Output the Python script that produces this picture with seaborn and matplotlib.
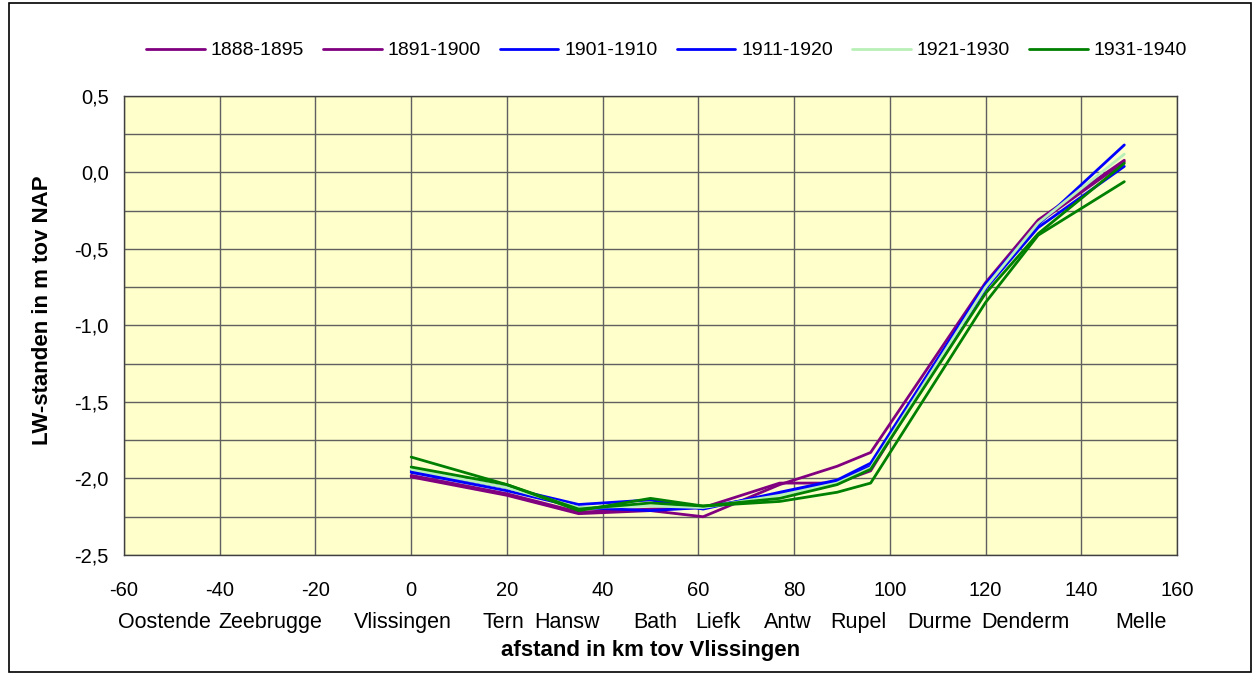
import numpy as np
import pandas as pd
import matplotlib
matplotlib.use("Agg")
import matplotlib.pyplot as plt
import matplotlib.transforms as mtransforms
from matplotlib.ticker import MultipleLocator, FuncFormatter
from matplotlib.lines import Line2D
from matplotlib.patches import Rectangle
import seaborn as sns

# afstand in km tov Vlissingen van de meetpunten
km = [0, 20, 35, 50, 61, 77, 89, 96, 120, 131, 149]

# LW-standen (m tov NAP) per periode
lw_1888_1895 = [-1.99, -2.11, -2.23, -2.21, -2.25, -2.04, -1.92, -1.83, -0.72, -0.31, 0.08]
lw_1891_1900 = [-1.98, -2.10, -2.22, -2.20, -2.19, -2.03, -2.03, -1.95, -0.74, -0.33, 0.07]
lw_1901_1910 = [-1.95, -2.06, -2.17, -2.14, -2.20, -2.09, -2.01, -1.90, -0.73, -0.34, 0.18]
lw_1911_1920 = [-1.96, -2.08, -2.19, -2.21, -2.19, -2.10, -2.02, -1.92, -0.76, -0.36, 0.04]
lw_1921_1930 = [-1.94, -2.06, -2.19, -2.18, -2.19, -2.11, -2.03, -1.93, -0.75, -0.33, 0.12]
lw_1931_1940 = [-1.86, -2.04, -2.21, -2.13, -2.18, -2.15, -2.09, -2.03, -0.85, -0.41, -0.06]
lw_extra = [-1.925, -2.04, -2.20, -2.16, -2.18, -2.13, -2.04, -1.94, -0.79, -0.40, 0.06]

perioden = ["1888-1895", "1891-1900", "1901-1910", "1911-1920", "1921-1930", "1931-1940"]
kleuren = ["#800080", "#800080", "#0000FF", "#0000FF", "#B8F0B8", "#008000"]

# stations langs de x-as (positie in km)
stations = ["Oostende", "Zeebrugge", "Vlissingen", "Tern", "Hansw", "Bath", "Liefk",
            "Antw", "Rupel", "Durme", "Denderm", "Melle"]
station_km = [-51.5, -29.5, -1.7, 19.2, 32.6, 51, 64, 78.6, 93.5, 110.4, 128.4, 152.4]

sns.set_style("white")
plt.rcParams["font.family"] = ["Liberation Sans", "DejaVu Sans"]
plt.rcParams["axes.unicode_minus"] = False
plt.rcParams["text.color"] = "black"
plt.rcParams["xtick.color"] = "black"
plt.rcParams["ytick.color"] = "black"

fig = plt.figure(figsize=(12.6, 6.75), dpi=100)
ax = fig.add_axes([0.0984, 0.1778, 0.8357, 0.68])
ax.set_facecolor("#FFFFCC")

series = [lw_1888_1895, lw_1891_1900, lw_1901_1910, lw_1911_1920, lw_1921_1930, lw_1931_1940]
for naam, kleur, waarden in zip(perioden, kleuren, series):
    df = pd.DataFrame({"km": km, "lw": waarden})
    sns.lineplot(data=df, x="km", y="lw", color=kleur, lw=2.0, ax=ax, label=naam, legend=False)
# extra reeks zonder legenda
sns.lineplot(data=pd.DataFrame({"km": km, "lw": lw_extra}), x="km", y="lw",
             color="#008000", lw=2.0, ax=ax, legend=False)

ax.set_xlim(-60, 160)
ax.set_ylim(-2.5, 0.5)
ax.xaxis.set_major_locator(MultipleLocator(20))
ax.yaxis.set_major_locator(MultipleLocator(0.5))
ax.yaxis.set_minor_locator(MultipleLocator(0.25))
ax.yaxis.set_major_formatter(FuncFormatter(lambda v, p: f"{v:.1f}".replace(".", ",")))
ax.grid(True, which="both", color="#606060", lw=1.0)
ax.set_axisbelow(True)
ax.tick_params(axis="both", which="both", length=0, labelsize=14.5)
ax.tick_params(axis="x", pad=19)
ax.tick_params(axis="y", pad=11)
for s in ax.spines.values():
    s.set_color("#404040")
    s.set_linewidth(1.0)
ax.set_xlabel("")
ax.set_ylabel("")

fig.text(0.516, 0.037, "afstand in km tov Vlissingen", fontsize=16, fontweight="bold",
         ha="center", va="center")
fig.text(0.034, 0.541, "LW-standen in m tov NAP", fontsize=16, fontweight="bold",
         ha="center", va="center", rotation=90)

trans = mtransforms.blended_transform_factory(ax.transData, ax.transAxes)
for naam, pos in zip(stations, station_km):
    ax.text(pos, -0.148, naam, transform=trans, ha="center", va="center", fontsize=15.5)

handles = [Line2D([], [], color=k, lw=2.0) for k in kleuren]
fig.legend(handles, perioden, loc="center", bbox_to_anchor=(0.529, 0.925), ncol=6,
           frameon=False, fontsize=14, handlelength=3.0, handletextpad=0.3,
           columnspacing=1.0)

fig.patches.append(Rectangle((0.007, 0.005), 0.986, 0.99, transform=fig.transFigure,
                             fill=False, edgecolor="black", lw=1.2))

fig.savefig("out.png", dpi=100)
